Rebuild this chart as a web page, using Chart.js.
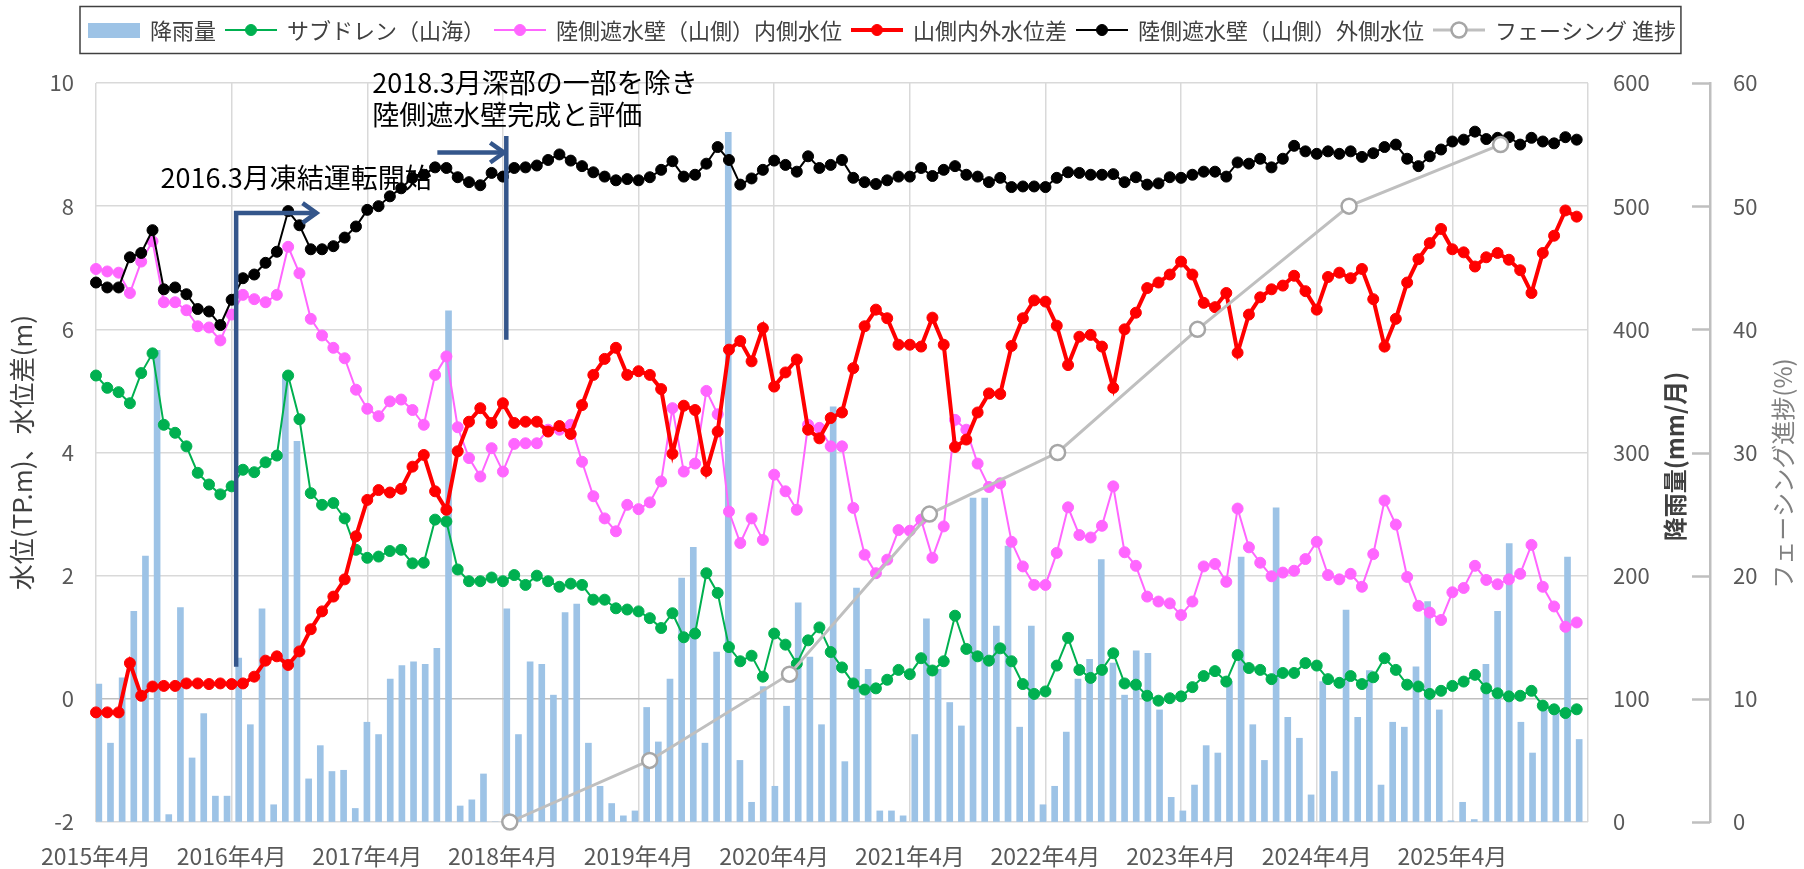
<!DOCTYPE html>
<html lang="ja">
<head>
<meta charset="utf-8">
<title>陸側遮水壁 山側内外水位差・降雨量の推移</title>
<script src="https://cdn.jsdelivr.net/npm/chart.js@4.4.1/dist/chart.umd.min.js"></script>
<style>
  html, body { margin: 0; padding: 0; background: #ffffff; }
  #chartBox { width: 1804px; height: 869px; }
</style>
</head>
<body>
<div id="chartBox"><canvas id="waterChart" width="1804" height="869"></canvas></div>
<script>
// 月ラベル 2015年4月〜2026年4月（水位の横軸）
const lineMonths = [];
for (let n = 0; n < 133; n++) {
    const m = 3 + n;
    lineMonths.push((2015 + Math.floor(m / 12)) + '年' + (m % 12 + 1) + '月');
}
// 降雨量の棒は別の横軸に載せる（128か月分）
const rainMonths = lineMonths.slice(0, 128);

// 降雨量 (mm/月)
const rainfall = [
    112, 64, 117, 171, 216, 383, 6, 174, 52, 88,
    21, 21, 133, 79, 173, 14, 363, 309, 35, 62,
    41, 42, 11, 81, 71, 116, 127, 130, 128, 141,
    415, 13, 18, 39, 0, 173, 71, 130, 128, 103,
    170, 177, 64, 29, 15, 5, 9, 93, 65, 116,
    198, 223, 64, 138, 560, 50, 16, 110, 29, 94,
    178, 134, 79, 337, 49, 190, 124, 9, 9, 5,
    71, 165, 124, 97, 78, 263, 263, 159, 224, 77,
    159, 14, 29, 73, 116, 132, 213, 129, 103, 139,
    137, 91, 20, 9, 30, 62, 56, 114, 215, 79,
    50, 255, 85, 68, 22, 114, 41, 172, 85, 123,
    30, 81, 77, 126, 179, 91, 1, 16, 2, 128,
    171, 226, 81, 56, 91, 91, 215, 67
];

// サブドレン（山海） TP.m
const subdrain = [
    5.25, 5.05, 4.98, 4.80, 5.29, 5.61, 4.45, 4.32, 4.10, 3.67,
    3.48, 3.32, 3.45, 3.72, 3.68, 3.84, 3.95, 5.25, 4.54, 3.34,
    3.15, 3.18, 2.93, 2.42, 2.29, 2.31, 2.40, 2.42, 2.20, 2.21,
    2.91, 2.88, 2.10, 1.91, 1.91, 1.97, 1.91, 2.01, 1.85, 2.00,
    1.91, 1.82, 1.87, 1.85, 1.61, 1.61, 1.47, 1.45, 1.42, 1.31,
    1.15, 1.39, 1.00, 1.06, 2.04, 1.72, 0.84, 0.61, 0.70, 0.36,
    1.06, 0.88, 0.57, 0.95, 1.16, 0.76, 0.51, 0.25, 0.15, 0.17,
    0.31, 0.47, 0.40, 0.66, 0.46, 0.61, 1.35, 0.81, 0.69, 0.62,
    0.82, 0.61, 0.24, 0.08, 0.12, 0.54, 0.99, 0.47, 0.34, 0.47,
    0.74, 0.25, 0.23, 0.05, -0.03, 0.01, 0.04, 0.19, 0.37, 0.45,
    0.28, 0.71, 0.50, 0.47, 0.32, 0.42, 0.42, 0.58, 0.54, 0.32,
    0.26, 0.37, 0.24, 0.35, 0.66, 0.47, 0.23, 0.20, 0.08, 0.13,
    0.21, 0.28, 0.39, 0.17, 0.09, 0.04, 0.05, 0.13, -0.11, -0.17,
    -0.23, -0.17
];

// 陸側遮水壁（山側）内側水位 TP.m
const innerLevel = [
    6.98, 6.94, 6.92, 6.59, 7.10, 7.43, 6.44, 6.44, 6.31, 6.05,
    6.03, 5.82, 6.24, 6.56, 6.49, 6.44, 6.56, 7.34, 6.91, 6.17,
    5.90, 5.70, 5.53, 5.02, 4.71, 4.59, 4.83, 4.86, 4.69, 4.45,
    5.26, 5.56, 4.41, 3.91, 3.61, 4.07, 3.69, 4.14, 4.15, 4.15,
    4.37, 4.37, 4.45, 3.85, 3.29, 2.93, 2.72, 3.15, 3.08, 3.19,
    3.53, 4.72, 3.69, 3.82, 5.00, 4.62, 3.04, 2.53, 2.93, 2.58,
    3.64, 3.37, 3.07, 4.45, 4.40, 4.10, 4.10, 3.10, 2.34, 2.04,
    2.26, 2.74, 2.73, 2.91, 2.29, 2.80, 4.53, 4.37, 3.82, 3.44,
    3.50, 2.55, 2.15, 1.85, 1.85, 2.37, 3.11, 2.66, 2.62, 2.81,
    3.45, 2.38, 2.16, 1.66, 1.58, 1.55, 1.36, 1.58, 2.15, 2.19,
    1.90, 3.09, 2.46, 2.21, 1.99, 2.05, 2.08, 2.27, 2.55, 2.01,
    1.94, 2.03, 1.82, 2.35, 3.22, 2.83, 1.98, 1.51, 1.40, 1.28,
    1.73, 1.80, 2.16, 1.93, 1.86, 1.94, 2.03, 2.50, 1.82, 1.50,
    1.17, 1.24
];

// 山側内外水位差 m
const levelGap = [
    -0.22, -0.22, -0.22, 0.58, 0.05, 0.20, 0.21, 0.21, 0.25, 0.25,
    0.24, 0.25, 0.24, 0.25, 0.36, 0.62, 0.69, 0.55, 0.77, 1.13,
    1.42, 1.66, 1.94, 2.64, 3.23, 3.39, 3.35, 3.41, 3.77, 3.96,
    3.37, 3.07, 4.02, 4.50, 4.72, 4.48, 4.80, 4.48, 4.50, 4.50,
    4.34, 4.43, 4.30, 4.77, 5.26, 5.52, 5.70, 5.26, 5.32, 5.26,
    5.03, 3.98, 4.76, 4.69, 3.70, 4.34, 5.67, 5.81, 5.48, 6.02,
    5.07, 5.30, 5.51, 4.37, 4.23, 4.56, 4.65, 5.37, 6.05, 6.32,
    6.18, 5.75, 5.75, 5.72, 6.19, 5.75, 4.09, 4.21, 4.65, 4.96,
    4.95, 5.73, 6.18, 6.47, 6.45, 6.06, 5.42, 5.88, 5.91, 5.72,
    5.05, 6.00, 6.27, 6.67, 6.76, 6.89, 7.10, 6.89, 6.43, 6.36,
    6.59, 5.62, 6.24, 6.52, 6.65, 6.71, 6.87, 6.62, 6.32, 6.85,
    6.92, 6.83, 6.98, 6.49, 5.72, 6.17, 6.76, 7.14, 7.40, 7.63,
    7.30, 7.25, 7.02, 7.17, 7.24, 7.13, 6.96, 6.59, 7.24, 7.52,
    7.93, 7.83
];

// 陸側遮水壁（山側）外側水位 TP.m
const outerLevel = [
    6.76, 6.68, 6.68, 7.17, 7.24, 7.61, 6.65, 6.68, 6.57, 6.33,
    6.29, 6.07, 6.48, 6.83, 6.89, 7.08, 7.26, 7.92, 7.69, 7.30,
    7.30, 7.35, 7.49, 7.67, 7.94, 8.00, 8.16, 8.29, 8.46, 8.51,
    8.63, 8.62, 8.47, 8.39, 8.34, 8.54, 8.48, 8.62, 8.63, 8.66,
    8.75, 8.84, 8.74, 8.65, 8.55, 8.48, 8.42, 8.44, 8.42, 8.47,
    8.59, 8.73, 8.48, 8.51, 8.69, 8.96, 8.75, 8.35, 8.45, 8.59,
    8.74, 8.67, 8.56, 8.81, 8.62, 8.67, 8.75, 8.46, 8.39, 8.36,
    8.42, 8.48, 8.48, 8.62, 8.49, 8.59, 8.65, 8.51, 8.48, 8.39,
    8.46, 8.31, 8.32, 8.32, 8.31, 8.46, 8.55, 8.54, 8.51, 8.51,
    8.52, 8.39, 8.47, 8.35, 8.37, 8.47, 8.46, 8.51, 8.56, 8.56,
    8.48, 8.71, 8.69, 8.77, 8.63, 8.77, 8.98, 8.89, 8.85, 8.89,
    8.85, 8.89, 8.80, 8.86, 8.96, 9.00, 8.77, 8.65, 8.81, 8.92,
    9.05, 9.08, 9.21, 9.09, 9.11, 9.12, 9.00, 9.11, 9.05, 9.02,
    9.12, 9.08
];

// フェーシング進捗 (%)
const fencingMonths = ['2018年3月', '2019年3月', '2020年3月', '2021年3月', '2022年2月', '2023年2月', '2024年3月', '2025年4月'];
const fencingProgress = [0, 5, 12, 25, 30, 40, 50, 55];

// 注記（横は月の番号、縦は左軸の水位で指定）
const notes = [
    { text: ['2016.3月凍結運転開始'], at: [5.7, 8.46] },
    { text: ['2018.3月深部の一部を除き', '陸側遮水壁完成と評価'], at: [24.45, 10.0] }
];
const freezeArrow = [[12.4, 0.52], [12.4, 7.89], [19.5, 7.89]];
const wallMarker = [[36.3, 5.83], [36.3, 9.14]];
const wallArrow = [[30.2, 8.87], [36.1, 8.87]];

Chart.defaults.font.family = "'Noto Sans CJK JP', 'Noto Sans', sans-serif";

const tickColor = '#595959';
const gridColor = '#D9D9D9';

const lineStyle = (color, width) => ({
    borderColor: color,
    backgroundColor: color,
    pointBackgroundColor: color,
    pointBorderColor: color,
    borderWidth: width,
    pointRadius: 5.5,
    pointBorderWidth: 1,
    clip: false
});

function strokePath(ctx, pts, head) {
    ctx.beginPath();
    pts.forEach((p, i) => i ? ctx.lineTo(p[0], p[1]) : ctx.moveTo(p[0], p[1]));
    ctx.stroke();
    if (!head) return;
    const [x1, y1] = pts[pts.length - 2];
    const [x2, y2] = pts[pts.length - 1];
    const a = Math.atan2(y2 - y1, x2 - x1);
    const len = 17, spread = 0.62;
    ctx.beginPath();
    ctx.moveTo(x2 - len * Math.cos(a - spread), y2 - len * Math.sin(a - spread));
    ctx.lineTo(x2, y2);
    ctx.lineTo(x2 - len * Math.cos(a + spread), y2 - len * Math.sin(a + spread));
    ctx.stroke();
}

function verticalText(ctx, text, cx, cy, font, color) {
    ctx.save();
    ctx.translate(cx, cy);
    ctx.rotate(-Math.PI / 2);
    ctx.font = font;
    ctx.fillStyle = color;
    ctx.textAlign = 'center';
    ctx.textBaseline = 'middle';
    ctx.fillText(text, 0, 0);
    ctx.restore();
}

function drawSwatch(ctx, ds, x, cy, w) {
    if (ds.type === 'bar') {
        ctx.fillStyle = ds.backgroundColor;
        ctx.fillRect(x, cy - 7, w, 15);
        return;
    }
    ctx.strokeStyle = ds.borderColor;
    ctx.lineWidth = ds.borderWidth;
    ctx.beginPath();
    ctx.moveTo(x, cy);
    ctx.lineTo(x + w, cy);
    ctx.stroke();
    ctx.beginPath();
    ctx.arc(x + w / 2, cy, ds.pointRadius, 0, Math.PI * 2);
    ctx.fillStyle = ds.pointBackgroundColor;
    ctx.fill();
    ctx.strokeStyle = ds.pointBorderColor;
    ctx.lineWidth = ds.pointBorderWidth;
    ctx.stroke();
}

const notesPlugin = {
    id: 'notes',
    afterDatasetsDraw(chart) {
        const { ctx, scales: { x, y } } = chart;
        const toPx = p => [x.getPixelForValue(p[0]), y.getPixelForValue(p[1])];
        ctx.save();
        ctx.strokeStyle = '#34568B';
        ctx.lineWidth = 4.5;
        ctx.lineJoin = 'miter';
        strokePath(ctx, freezeArrow.map(toPx), true);
        strokePath(ctx, wallMarker.map(toPx), false);
        strokePath(ctx, wallArrow.map(toPx), true);

        ctx.fillStyle = '#000000';
        ctx.font = "27px 'Noto Sans CJK JP'";
        ctx.textAlign = 'left';
        ctx.textBaseline = 'middle';
        notes.forEach(n => {
            const [tx, ty] = toPx(n.at);
            n.text.forEach((t, k) => ctx.fillText(t, tx, ty + k * 32));
        });
        ctx.restore();
    },
    afterDraw(chart) {
        const { ctx, chartArea, scales: { y1, y2 } } = chart;
        const midY = (chartArea.top + chartArea.bottom) / 2;

        // フェーシング軸の内向き目盛
        ctx.save();
        ctx.strokeStyle = '#BFBFBF';
        ctx.lineWidth = 2.5;
        y2.ticks.forEach(t => {
            const py = Math.round(y2.getPixelForValue(t.value)) + 0.5;
            ctx.beginPath();
            ctx.moveTo(y2.left - 18, py);
            ctx.lineTo(y2.left, py);
            ctx.stroke();
        });
        ctx.restore();

        // 右側の軸タイトル（下から上へ）
        verticalText(ctx, '降雨量(mm/月)', y1.right - 35, midY + 4, "bold 24px 'Noto Sans CJK JP'", '#404040');
        verticalText(ctx, 'フェーシング進捗(%)', y2.right - 21, midY + 21, "24px 'Noto Sans CJK JP'", '#808080');

        // 凡例（枠付き・1行）
        ctx.save();
        ctx.font = "22px 'Noto Sans CJK JP'";
        ctx.textAlign = 'left';
        ctx.textBaseline = 'middle';
        const cy = 30, swatchW = 52;
        const startX = chartArea.left - 8;
        let lx = startX;
        chart.data.datasets.forEach(ds => {
            drawSwatch(ctx, ds, lx, cy, swatchW);
            lx += swatchW + 10;
            ctx.fillStyle = '#404040';
            ctx.fillText(ds.label, lx, cy + 1);
            lx += ctx.measureText(ds.label).width + 9;
        });
        ctx.strokeStyle = '#404040';
        ctx.lineWidth = 1.5;
        ctx.strokeRect(startX - 8, 6.5, lx - startX + 4, 47);
        ctx.restore();
    }
};

const ctx = document.getElementById('waterChart').getContext('2d');

let waterChart = new Chart(ctx, {
    type: 'line',
    data: {
        labels: lineMonths,
        datasets: [
            {
                type: 'bar',
                label: '降雨量',
                data: rainfall,
                xAxisID: 'xBar',
                yAxisID: 'y1',
                backgroundColor: '#9DC3E6',
                barThickness: 6,
                order: 6
            },
            { label: 'サブドレン（山海）', data: subdrain, xAxisID: 'x', yAxisID: 'y', ...lineStyle('#00B050', 2), order: 5 },
            { label: '陸側遮水壁（山側）内側水位', data: innerLevel, xAxisID: 'x', yAxisID: 'y', ...lineStyle('#FF66FF', 2), order: 4 },
            { label: '山側内外水位差', data: levelGap, xAxisID: 'x', yAxisID: 'y', ...lineStyle('#FF0000', 4), order: 3 },
            { label: '陸側遮水壁（山側）外側水位', data: outerLevel, xAxisID: 'x', yAxisID: 'y', ...lineStyle('#000000', 2), order: 2 },
            {
                label: 'フェーシング 進捗',
                data: fencingMonths.map((m, i) => ({ x: m, y: fencingProgress[i] })),
                xAxisID: 'xBar',
                yAxisID: 'y2',
                borderColor: '#BFBFBF',
                backgroundColor: '#FFFFFF',
                pointBackgroundColor: '#FFFFFF',
                pointBorderColor: '#A6A6A6',
                borderWidth: 3,
                pointRadius: 7.5,
                pointBorderWidth: 2.5,
                clip: false,
                order: 1
            }
        ]
    },
    options: {
        responsive: false,
        devicePixelRatio: 1,
        animation: false,
        events: [],
        layout: { padding: { top: 83, left: 0, right: 0, bottom: 0 } },
        plugins: {
            legend: { display: false },
            tooltip: { enabled: false }
        },
        scales: {
            x: {
                type: 'category',
                position: 'bottom',
                labels: lineMonths,
                offset: false,
                border: { display: false },
                grid: {
                    drawTicks: false,
                    lineWidth: 1.5,
                    color: c => (c.index % 12 === 0 ? gridColor : 'rgba(0,0,0,0)')
                },
                ticks: {
                    autoSkip: false,
                    maxRotation: 0,
                    minRotation: 0,
                    padding: 20,
                    color: tickColor,
                    font: { size: 23 },
                    callback: function (v, i) {
                        return (i % 12 === 0 && i < 132) ? this.getLabelForValue(v) : '';
                    }
                },
                afterFit: s => { s.height = 47; }
            },
            xBar: {
                type: 'category',
                position: 'bottom',
                labels: rainMonths,
                offset: true,
                display: false
            },
            y: {
                position: 'left',
                min: -2,
                max: 10,
                border: { display: false },
                grid: {
                    drawTicks: false,
                    lineWidth: 1.5,
                    color: c => (c.tick.value === 0 ? '#BFBFBF' : gridColor)
                },
                ticks: { stepSize: 2, padding: 22, color: tickColor, font: { size: 22 } },
                title: {
                    display: true,
                    text: '水位(TP.m)、水位差(m)',
                    color: '#404040',
                    font: { size: 26 },
                    padding: { top: 7, bottom: 0 }
                },
                afterFit: s => { s.width = 96; }
            },
            y1: {
                position: 'right',
                min: 0,
                max: 600,
                border: { display: false },
                grid: { drawOnChartArea: false, drawTicks: false },
                ticks: { stepSize: 100, padding: 25, color: tickColor, font: { size: 22 } },
                afterFit: s => { s.width = 122; }
            },
            y2: {
                position: 'right',
                weight: 1,
                min: 0,
                max: 60,
                border: { display: true, color: '#BFBFBF', width: 2.5 },
                grid: { drawOnChartArea: false, drawTicks: false },
                ticks: { stepSize: 10, padding: 23, color: tickColor, font: { size: 22 } },
                afterFit: s => { s.width = 94; }
            }
        }
    },
    plugins: [notesPlugin]
});
</script>
</body>
</html>
